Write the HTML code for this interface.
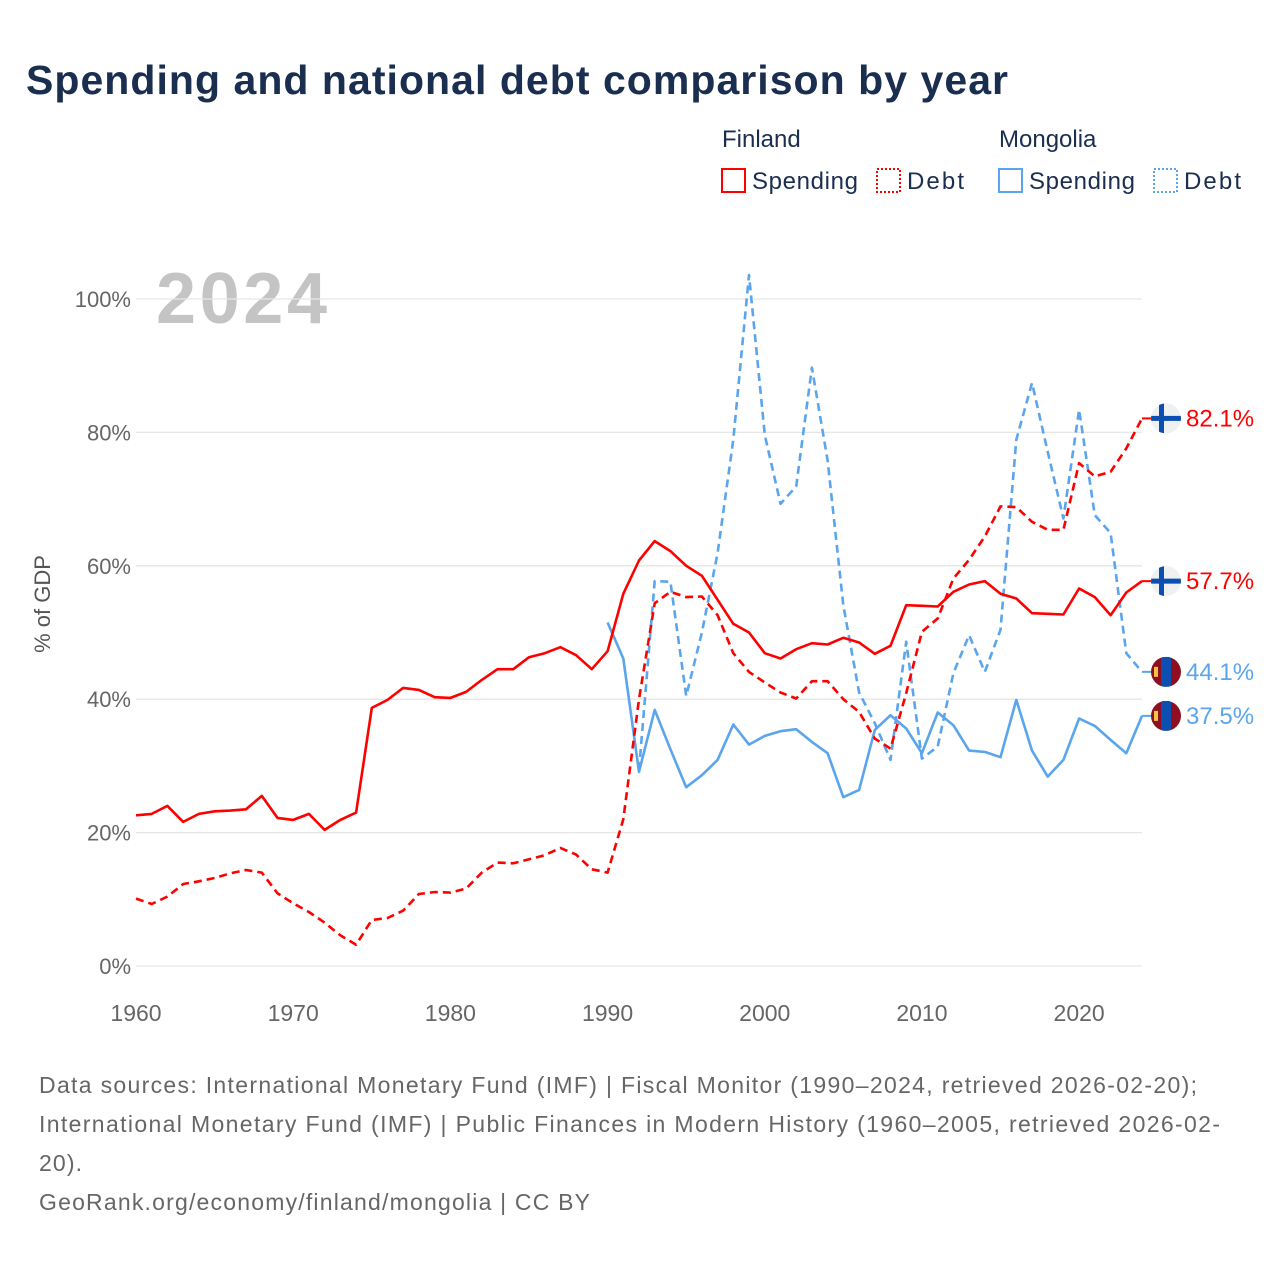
<!DOCTYPE html>
<html><head><meta charset="utf-8"><style>
html,body{margin:0;padding:0;background:#fff;}
svg{display:block;font-family:"Liberation Sans",sans-serif;}
</style></head><body>
<svg id="chart" width="1280" height="1280" viewBox="0 0 1280 1280">
<text x="26" y="94" font-size="41" font-weight="bold" fill="#1a2e4f" textLength="982">Spending and national debt comparison by year</text>
<g font-size="24" fill="#1a2e4f">
<text x="722" y="147">Finland</text>
<text x="999" y="147">Mongolia</text>
<g><rect x="722" y="169" width="23" height="23" fill="none" stroke="#ff0000" stroke-width="2"/><text x="752" y="189" textLength="106">Spending</text></g>
<g><rect x="877" y="169" width="23" height="23" fill="none" stroke="#ff0000" stroke-width="2" stroke-dasharray="2,2"/><text x="907" y="189" textLength="57">Debt</text></g>
<g><rect x="999" y="169" width="23" height="23" fill="none" stroke="#5aa5ec" stroke-width="2"/><text x="1029" y="189" textLength="106">Spending</text></g>
<g><rect x="1154" y="169" width="23" height="23" fill="none" stroke="#5aa5ec" stroke-width="2" stroke-dasharray="2,2"/><text x="1184" y="189" textLength="57">Debt</text></g>
</g>
<text x="156" y="323" font-size="72" font-weight="bold" fill="#c4c4c4" textLength="171">2024</text>
<g id="grid"></g>
<g id="series"></g>
<g id="ends"></g>
<text transform="translate(50,604) rotate(-90)" text-anchor="middle" font-size="22" fill="#555">% of GDP</text>
<g font-size="23" fill="#666">
<text x="39" y="1093" textLength="1158">Data sources: International Monetary Fund (IMF) | Fiscal Monitor (1990–2024, retrieved 2026-02-20);</text>
<text x="39" y="1132" textLength="1181">International Monetary Fund (IMF) | Public Finances in Modern History (1960–2005, retrieved 2026-02-</text>
<text x="39" y="1171" textLength="43">20).</text>
<text x="39" y="1210" textLength="551">GeoRank.org/economy/finland/mongolia | CC BY</text>
</g>
</svg>
<script>
const yTicks = [0,20,40,60,80,100];
const xTicks = [1960,1970,1980,1990,2000,2010,2020];
const finSpendStart = 1960;
const finSpending = [22.6,22.8,24,21.6,22.8,23.2,23.3,23.5,25.5,22.2,21.9,22.8,20.4,21.9,23,38.7,39.9,41.7,41.4,40.3,40.2,41.1,42.9,44.5,44.5,46.3,46.9,47.8,46.6,44.5,47.2,55.8,60.8,63.7,62.2,60,58.5,54.9,51.3,50,46.9,46.1,47.5,48.4,48.2,49.2,48.5,46.8,48,54.1,54,53.9,56.1,57.2,57.7,55.8,55.1,52.9,52.8,52.7,56.6,55.3,52.6,56,57.7];
const finDebtStart = 1960;
const finDebt = [10.1,9.3,10.4,12.3,12.7,13.2,13.9,14.4,14,10.9,9.4,8.1,6.5,4.6,3.2,6.9,7.2,8.3,10.8,11.1,11,11.6,14,15.5,15.4,16,16.6,17.7,16.7,14.5,14,22,40,54.4,56.1,55.3,55.4,52.6,46.9,44.1,42.5,41,40.1,42.7,42.7,40,38.1,34.1,32.6,40.9,50.1,52.1,58.1,60.9,64.4,68.9,68.8,66.6,65.4,65.4,75.4,73.4,74.1,77.6,82.1];
const mngSpendStart = 1990;
const mngSpending = [51.5,46.1,29.1,38.4,32.5,26.8,28.6,30.9,36.2,33.2,34.5,35.2,35.5,33.6,31.9,25.3,26.4,35.4,37.6,35.6,31.9,38,36.1,32.3,32.1,31.3,39.9,32.3,28.4,30.9,37.1,36,33.9,31.9,37.5];
const mngDebtStart = 1992;
const mngDebt = [29.4,57.7,57.6,40.5,50,61.9,78.9,103.6,79.6,69.3,71.9,89.7,75.8,54.1,41,36.4,30.9,48.6,31.1,32.9,43.9,49.6,44.1,50.4,78.9,87.4,77.1,67.1,83.4,67.6,64.9,46.9,44.1];

const NS='http://www.w3.org/2000/svg';
const X = yr => 136 + (yr-1960)*(1142-136)/64;
const Y = v => 966 - v*(966-299)/100;
function mk(tag, attrs, parent){const e=document.createElementNS(NS,tag);for(const k in attrs)e.setAttribute(k,attrs[k]);parent.appendChild(e);return e;}
const grid=document.getElementById('grid');
yTicks.forEach(t=>{
  const l=mk('line',{x1:136,x2:1142,y1:Y(t),y2:Y(t),stroke:'#e6e6e6','stroke-width':1.3},grid);
  
  
  const tx=mk('text',{x:131,y:Y(t)+8,'text-anchor':'end','font-size':22,fill:'#666'},grid);
  tx.textContent=t+'%';
  
  
});
xTicks.forEach(t=>{
  const tx=mk('text',{x:X(t),y:1021,'text-anchor':'middle','font-size':23,fill:'#666'},grid);
  tx.textContent=t;
  
  
});
const ser=document.getElementById('series');
function line(vals,start,color,dash,name){
  const pts=vals.map((v,i)=>X(start+i).toFixed(1)+','+Y(v).toFixed(1)).join(' ');
  const p=mk('polyline',{points:pts,fill:'none',stroke:color,'stroke-width':2.6,'stroke-linejoin':'round'},ser);
  if(dash)p.setAttribute('stroke-dasharray',dash);
  
  
}
line(mngSpending,mngSpendStart,'#5aa5ec',null,'mongolia-spending-line');
line(mngDebt,mngDebtStart,'#5aa5ec','8,5','mongolia-debt-line');
line(finSpending,finSpendStart,'#ff0000',null,'finland-spending-line');
line(finDebt,finDebtStart,'#ff0000','8,5','finland-debt-line');
const ends=document.getElementById('ends');
const defs=mk('defs',{},document.getElementById('chart'));
let cid=0;
function endMark(v,color,fin,name){
  const y=Y(v);
  const g=mk('g',{},ends);
  
  
  mk('line',{x1:1142,x2:1152,y1:y,y2:y,stroke:color,'stroke-width':2},g);
  const id='clip'+(cid++);
  const cp=mk('clipPath',{id:id},defs);
  mk('circle',{cx:1166,cy:y,r:15},cp);
  const f=mk('g',{'clip-path':'url(#'+id+')'},g);
  if(fin){
    mk('rect',{x:1151,y:y-15,width:30,height:30,fill:'#eef0f2'},f);
    mk('rect',{x:1151,y:y-2.5,width:30,height:5,fill:'#0b4fb0'},f);
    mk('rect',{x:1159,y:y-15,width:5,height:30,fill:'#0b4fb0'},f);
  } else {
    mk('rect',{x:1151,y:y-15,width:30,height:30,fill:'#8f0f22'},f);
    mk('rect',{x:1161,y:y-15,width:10,height:30,fill:'#0b4fb0'},f);
    mk('rect',{x:1154,y:y-5,width:4,height:10,fill:'#f5c242'},f);
  }
  const t=mk('text',{x:1186,y:y+8,'font-size':24,fill:color},g);
  t.textContent=v.toFixed(1)+'%';
}
endMark(finDebt[finDebt.length-1],'#ff0000',true,'finland-debt-end-label');
endMark(finSpending[finSpending.length-1],'#ff0000',true,'finland-spending-end-label');
endMark(mngDebt[mngDebt.length-1],'#5aa5ec',false,'mongolia-debt-end-label');
endMark(mngSpending[mngSpending.length-1],'#5aa5ec',false,'mongolia-spending-end-label');
</script>
</body></html>
